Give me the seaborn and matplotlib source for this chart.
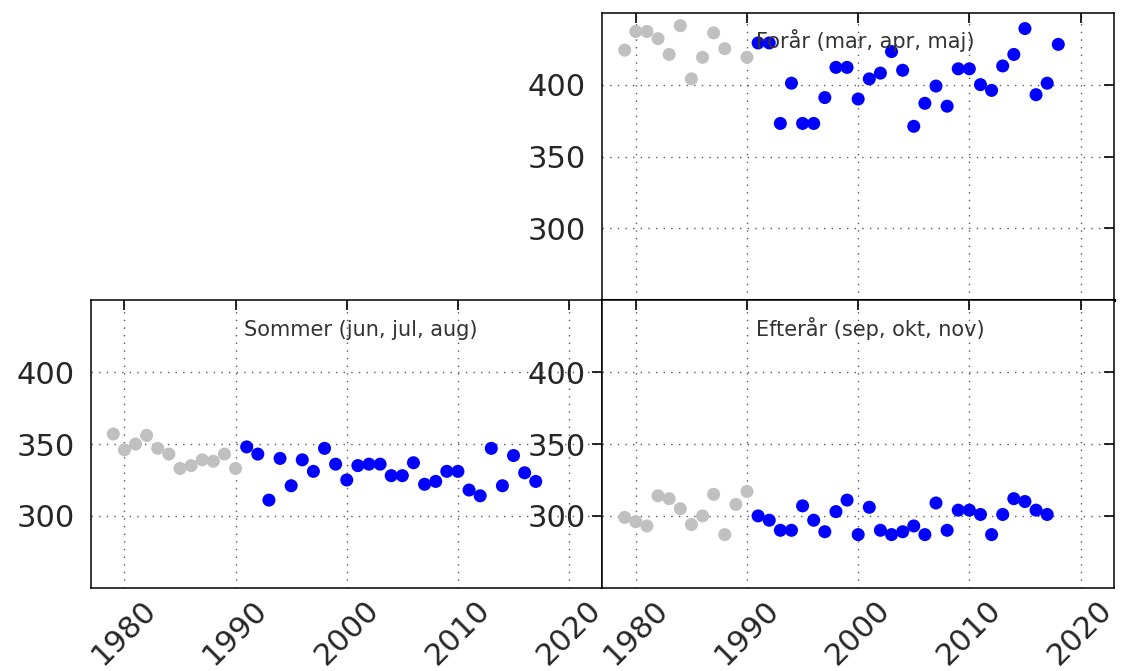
import seaborn as sns
import matplotlib.pyplot as plt
import pandas as pd

# ---- data ----
spring_years_old = [1979, 1980, 1981, 1982, 1983, 1984, 1985, 1986, 1987, 1988, 1990]
spring_old = [424, 437, 437, 432, 421, 441, 404, 419, 436, 425, 419]
spring_years_new = list(range(1991, 2019))
spring_new = [429, 429, 373, 401, 373, 373, 391, 412, 412, 390, 404, 408, 423, 410,
              371, 387, 399, 385, 411, 411, 400, 396, 413, 421, 439, 393, 401, 428]

summer_years_old = list(range(1979, 1991))
summer_old = [357, 346, 350, 356, 347, 343, 333, 335, 339, 338, 343, 333]
summer_years_new = list(range(1991, 2018))
summer_new = [348, 343, 311, 340, 321, 339, 331, 347, 336, 325, 335, 336, 336, 328,
              328, 337, 322, 324, 331, 331, 318, 314, 347, 321, 342, 330, 324]

autumn_years_old = list(range(1979, 1991))
autumn_old = [299, 296, 293, 314, 312, 305, 294, 300, 315, 287, 308, 317]
autumn_years_new = list(range(1991, 2018))
autumn_new = [300, 297, 290, 290, 307, 297, 289, 303, 311, 287, 306, 290, 287, 289,
              293, 287, 309, 290, 304, 304, 301, 287, 301, 312, 310, 304, 301]

titles = ["Forår (mar, apr, maj)", "Sommer (jun, jul, aug)", "Efterår (sep, okt, nov)"]
xticks = [1980, 1990, 2000, 2010, 2020]
yticks = [300, 350, 400]


def season_frame(yo, vo, yn, vn):
    return pd.DataFrame({
        "year": yo + yn,
        "value": vo + vn,
        "period": ["old"] * len(yo) + ["new"] * len(yn),
    })


seasons = [
    season_frame(spring_years_old, spring_old, spring_years_new, spring_new),
    season_frame(summer_years_old, summer_old, summer_years_new, summer_new),
    season_frame(autumn_years_old, autumn_old, autumn_years_new, autumn_new),
]

sns.set_style("white")
plt.rcParams["font.family"] = ["DejaVu Sans"]
plt.rcParams["axes.linewidth"] = 1.1

fig, axes = plt.subplots(2, 2, figsize=(11.24, 6.71), dpi=100, sharex=True)
fig.subplots_adjust(left=0.081, right=0.991, top=0.981, bottom=0.124,
                    wspace=0, hspace=0)
axes[0, 0].remove()

palette = {"old": "#c0c0c0", "new": "#0000ff"}
targets = [axes[0, 1], axes[1, 0], axes[1, 1]]

for ax, df, title in zip(targets, seasons, titles):
    sns.scatterplot(data=df, x="year", y="value", hue="period", palette=palette,
                    s=88, edgecolor="none", legend=False, ax=ax, zorder=3)
    ax.set_xlim(1977, 2023)
    ax.set_ylim(250, 450)
    ax.set_xticks(xticks)
    ax.set_yticks(yticks)
    ax.set_xlabel("")
    ax.set_ylabel("")
    ax.grid(True, color="0.35", linestyle=(0, (1, 4.5)), linewidth=1.0)
    ax.tick_params(direction="in", length=7.5, width=1.2, top=True, right=True,
                   labelsize=22, colors="black", labelcolor="0.15")
    ax.tick_params(axis="y", pad=12)
    ax.tick_params(axis="x", pad=5)
    for sp in ax.spines.values():
        sp.set_visible(True)
        sp.set_color("black")
    ax.text(0.3, 0.877, title, transform=ax.transAxes, ha="left", va="baseline",
            fontsize=15, color="0.2", zorder=4)

# the shared border between the two right panels reads heavier in the original
axes[0, 1].spines["bottom"].set_linewidth(2.2)

for ax in [axes[1, 0], axes[1, 1]]:
    for lab in ax.get_xticklabels():
        lab.set_rotation(45)
        lab.set_ha("center")

plt.savefig("out.png", dpi=100)
plt.close()
